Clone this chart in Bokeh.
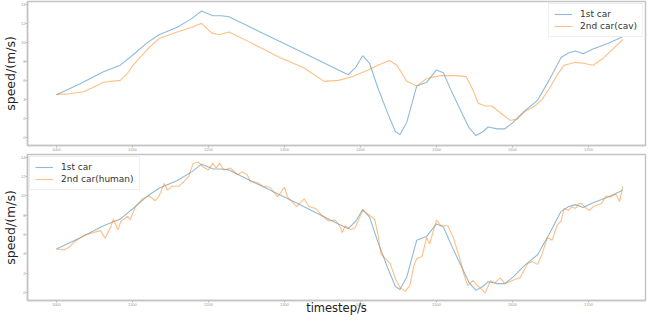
from bokeh.plotting import figure
from bokeh.layouts import column
from bokeh.models import Range1d, FixedTicker, Legend, LegendItem
from bokeh.embed import file_html
from bokeh.resources import INLINE

# ---- data ----
lead_t = [1000, 1030, 1062, 1084, 1101, 1120, 1135, 1159, 1178, 1191, 1197, 1206, 1217, 1227,
          1268, 1320, 1371, 1384, 1394, 1403, 1412, 1423, 1436, 1446, 1452, 1461, 1474, 1487,
          1500, 1509, 1519, 1532, 1543, 1552, 1561, 1568, 1580, 1590, 1601, 1616, 1633, 1648,
          1664, 1674, 1683, 1693, 1706, 1726, 1745]
lead_v = [4.5, 5.6, 6.9, 7.6, 8.7, 10.0, 10.8, 11.6, 12.5, 13.3, 13.1, 12.8, 12.8, 12.7,
          11.1, 9.1, 7.1, 6.6, 7.4, 8.6, 7.8, 5.2, 2.5, 0.6, 0.3, 1.6, 5.4, 5.8,
          7.1, 6.8, 5.0, 2.8, 1.0, 0.2, 0.6, 1.1, 0.9, 0.9, 1.6, 2.8, 3.9, 6.0,
          8.4, 8.9, 9.1, 8.8, 9.3, 9.9, 10.6]

cav_t = [1000, 1017, 1036, 1052, 1062, 1084, 1094, 1101, 1120, 1135, 1159, 1178, 1191, 1204,
         1214, 1227, 1255, 1294, 1326, 1352, 1371, 1390, 1410, 1423, 1438, 1448, 1461, 1474,
         1487, 1506, 1526, 1539, 1548, 1555, 1564, 1573, 1584, 1597, 1606, 1616, 1629, 1639,
         1648, 1659, 1668, 1683, 1693, 1706, 1719, 1732, 1745]
cav_v = [4.5, 4.6, 4.8, 5.4, 5.8, 6.0, 6.8, 7.6, 9.3, 10.4, 11.1, 11.6, 12.0, 11.0,
         10.8, 11.1, 10.0, 8.4, 7.3, 5.9, 6.0, 6.4, 7.1, 7.6, 8.1, 7.6, 5.9, 5.4,
         6.2, 6.5, 6.5, 6.4, 5.0, 3.6, 3.3, 3.3, 2.6, 1.8, 1.9, 2.7, 3.3, 4.0,
         5.1, 6.6, 7.6, 7.9, 7.8, 7.6, 8.3, 9.3, 10.3]

human_t = [1000, 1010, 1017, 1023, 1036, 1049, 1058, 1064, 1071, 1075, 1081, 1085, 1094, 1097,
           1104, 1113, 1122, 1130, 1135, 1142, 1146, 1152, 1161, 1168, 1174, 1180, 1187, 1193,
           1200, 1206, 1210, 1215, 1220, 1229, 1238, 1245, 1251, 1255, 1264, 1272, 1281, 1291,
           1300, 1304, 1316, 1326, 1332, 1341, 1349, 1358, 1367, 1374, 1376, 1380, 1387, 1393,
           1403, 1412, 1419, 1423, 1427, 1433, 1439, 1446, 1452, 1459, 1465, 1470, 1474, 1481,
           1487, 1491, 1500, 1506, 1515, 1522, 1530, 1536, 1541, 1548, 1554, 1561, 1564, 1571,
           1577, 1584, 1590, 1599, 1606, 1610, 1616, 1620, 1626, 1633, 1639, 1646, 1652, 1659,
           1664, 1668, 1674, 1678, 1683, 1687, 1691, 1697, 1702, 1706, 1710, 1717, 1723, 1729,
           1736, 1741, 1745]
human_v = [4.5, 4.4, 4.7, 5.2, 5.9, 6.2, 6.4, 5.6, 6.7, 7.6, 6.5, 7.4, 7.9, 7.5,
           8.9, 9.7, 10.0, 9.5, 10.0, 11.3, 10.6, 11.0, 11.0, 11.5, 12.0, 13.4, 13.5, 13.0,
           12.7, 13.4, 12.9, 13.4, 12.7, 12.9, 12.2, 12.5, 12.2, 11.5, 11.4, 11.0, 10.9, 9.9,
           10.9, 9.9, 8.9, 9.7, 8.9, 8.7, 8.0, 7.4, 7.5, 6.7, 6.2, 6.9, 6.5, 6.7,
           8.5, 8.0, 7.5, 6.0, 4.0, 3.5, 3.0, 1.4, 0.5, 0.1, 0.7, 2.7, 3.5, 3.7,
           5.7, 5.0, 7.5, 6.9, 6.9, 5.7, 3.7, 1.9, 0.7, 1.2, 0.7, 0.2, -0.1, 1.2,
           1.0, 1.5, 0.9, 1.2, 1.4, 1.5, 2.4, 3.0, 3.2, 2.9, 4.0, 5.7, 5.4, 7.0,
           7.4, 8.7, 8.5, 8.9, 8.7, 9.2, 9.2, 8.7, 8.5, 8.9, 9.0, 9.2, 10.0, 9.9,
           10.2, 9.4, 11.0]

x_ticks = [1000, 1100, 1200, 1300, 1400, 1500, 1600, 1700]
y_ticks = [0, 2, 4, 6, 8, 10, 12, 14]
x_title = "timestep/s"
y_title = "speed/(m/s)"

BLUE = "#1f77b4"
ORANGE = "#ff7f0e"
FONT = "DejaVu Sans"


def make_fig(height):
    p = figure(width=647, height=height, output_backend="svg", toolbar_location=None,
               x_range=Range1d(962, 1775), y_range=Range1d(-0.85, 14.3),
               min_border_left=0, min_border_right=2, min_border_top=1,
               min_border_bottom=0)
    p.grid.visible = False
    p.outline_line_color = "#c4c4c4"
    p.outline_line_width = 1.5
    p.background_fill_color = "white"
    p.border_fill_color = "white"
    for ax in (p.xaxis[0], p.yaxis[0]):
        ax.axis_line_color = "#c4c4c4"
        ax.axis_line_width = 1.5
        ax.major_tick_line_color = "#bbbbbb"
        ax.major_tick_out = 2
        ax.major_tick_in = 0
        ax.minor_tick_line_color = None
        ax.major_label_text_font_size = "4px"
        ax.major_label_text_color = "#999999"
        ax.major_label_standoff = 0
        ax.axis_label_text_font = FONT
        ax.axis_label_text_font_style = "normal"
        ax.axis_label_text_color = "#222222"
        ax.axis_label_standoff = 0
    p.yaxis.axis_label_text_font_size = "12.5px"
    p.xaxis.axis_label_text_font_size = "11.5px"
    p.xaxis.ticker = FixedTicker(ticks=x_ticks)
    p.yaxis.ticker = FixedTicker(ticks=y_ticks)
    p.yaxis.axis_label = y_title
    return p


def style_legend(leg):
    leg.label_text_font = FONT
    leg.label_text_font_size = "9px"
    leg.label_text_color = "#333333"
    leg.border_line_color = "#dddddd"
    leg.background_fill_alpha = 0.85
    leg.glyph_width = 18
    leg.glyph_height = 10
    leg.label_height = 10
    leg.spacing = 2
    leg.padding = 5
    leg.margin = 2
    leg.label_standoff = 8


LW = 1.1
LA = 0.5

p1 = make_fig(153)
r1 = p1.line(lead_t, lead_v, line_color=BLUE, line_width=LW, line_alpha=LA)
r2 = p1.line(cav_t, cav_v, line_color=ORANGE, line_width=LW, line_alpha=LA)
leg1 = Legend(items=[LegendItem(label="1st car", renderers=[r1]),
                     LegendItem(label="2nd car(cav)", renderers=[r2])],
              location="top_right")
style_legend(leg1)
p1.add_layout(leg1, "center")

p2 = make_fig(164)
p2.xaxis.axis_label = x_title
p2.xaxis.axis_label_standoff = -8
r3 = p2.line(lead_t, lead_v, line_color=BLUE, line_width=LW, line_alpha=LA)
r4 = p2.line(human_t, human_v, line_color=ORANGE, line_width=LW, line_alpha=LA)
leg2 = Legend(items=[LegendItem(label="1st car", renderers=[r3]),
                     LegendItem(label="2nd car(human)", renderers=[r4])],
              location="top_left")
style_legend(leg2)
p2.add_layout(leg2, "center")

layout = column(p1, p2, spacing=0)
open("out.html", "w").write(file_html(layout, INLINE))
